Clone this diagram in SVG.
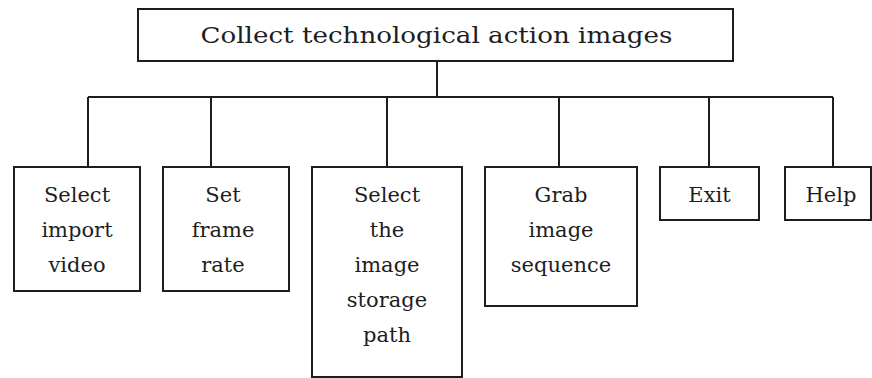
<svg xmlns="http://www.w3.org/2000/svg" width="872" height="378" viewBox="0 0 872 378">
  <style>
    .box { fill: #ffffff; stroke: #1e1e1e; stroke-width: 2; }
    .wire { fill: none; stroke: #1e1e1e; stroke-width: 2; }
    .lbl { font-family: "DejaVu Serif", "Liberation Serif", serif; font-size: 21px; fill: #1e1e1e; text-anchor: middle; }
    .title { font-size: 23px; }
  </style>
  <rect width="872" height="378" fill="#ffffff"/>

  <!-- tree connectors -->
  <g id="connectors">
    <path class="wire" d="M437 61 V97"/>
    <path class="wire" d="M88 97 H833"/>
    <path class="wire" d="M88 97 V167"/>
    <path class="wire" d="M211 97 V167"/>
    <path class="wire" d="M387 97 V167"/>
    <path class="wire" d="M559 97 V167"/>
    <path class="wire" d="M709 97 V167"/>
    <path class="wire" d="M833 97 V167"/>
  </g>

  <g id="root">
    <rect class="box" x="138" y="9" width="595" height="52"/>
    <text class="lbl title" x="436.5" y="43" textLength="472" lengthAdjust="spacingAndGlyphs">Collect technological action images</text>
  </g>

  <g id="import-video">
    <rect class="box" x="14" y="167" width="126" height="124"/>
    <text class="lbl" x="77" y="202">Select</text>
    <text class="lbl" x="77" y="237">import</text>
    <text class="lbl" x="77" y="272">video</text>
  </g>

  <g id="frame-rate">
    <rect class="box" x="163" y="167" width="126" height="124"/>
    <text class="lbl" x="223" y="202">Set</text>
    <text class="lbl" x="223" y="237">frame</text>
    <text class="lbl" x="223" y="272">rate</text>
  </g>

  <g id="storage-path">
    <rect class="box" x="312" y="167" width="150" height="210"/>
    <text class="lbl" x="387" y="202">Select</text>
    <text class="lbl" x="387" y="237">the</text>
    <text class="lbl" x="387" y="272">image</text>
    <text class="lbl" x="387" y="307">storage</text>
    <text class="lbl" x="387" y="342">path</text>
  </g>

  <g id="grab-sequence">
    <rect class="box" x="485" y="167" width="152" height="139"/>
    <text class="lbl" x="561" y="202">Grab</text>
    <text class="lbl" x="561" y="237">image</text>
    <text class="lbl" x="561" y="272">sequence</text>
  </g>

  <g id="exit">
    <rect class="box" x="660" y="167" width="99" height="53"/>
    <text class="lbl" x="709.5" y="202">Exit</text>
  </g>

  <g id="help">
    <rect class="box" x="785" y="167" width="86" height="53"/>
    <text class="lbl" x="831" y="202">Help</text>
  </g>
</svg>
